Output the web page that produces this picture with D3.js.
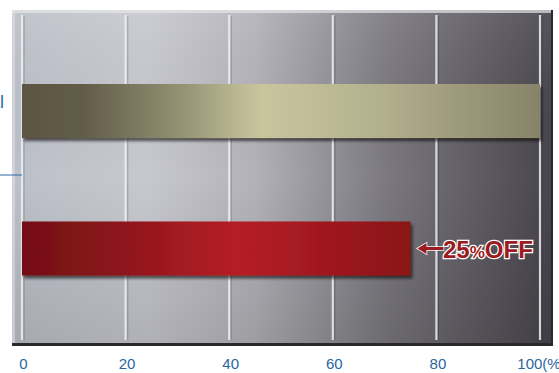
<!DOCTYPE html>
<html>
<head>
<meta charset="utf-8">
<script src="https://cdn.jsdelivr.net/npm/d3@7"></script>
<style>
  html, body { margin: 0; padding: 0; background: #fff; overflow: hidden; }
  svg { display: block; font-family: "Liberation Sans", Arial, sans-serif; }
</style>
</head>
<body>
<script>
// chart values
var categories = ["Normal", "Sale"];
var values = [100, 75];
var ticks = [0, 20, 40, 60, 80, 100];
var tickLabels = ["0", "20", "40", "60", "80", "100(%)"];
var note = "25%OFF";

var width = 559,
    height = 373;

var x = d3.scaleLinear().domain([0, 100]).range([22, 540]);
var y = d3.scaleBand().domain(categories).range([84, 275.5]).paddingInner(0.607);

var svg = d3.select("body").append("svg")
    .attr("width", width)
    .attr("height", height);

var defs = svg.append("defs");

function grad(id, stops, vertical) {
  var g = defs.append("linearGradient").attr("id", id)
      .attr("x1", 0).attr("y1", 0)
      .attr("x2", vertical ? 0 : 1).attr("y2", vertical ? 1 : 0);
  stops.forEach(function(s) {
    g.append("stop").attr("offset", s[0]).attr("stop-color", s[1]).attr("stop-opacity", s[2] == null ? 1 : s[2]);
  });
}

grad("plate", [[0, "#bcc0c8"], [0.25, "#c8c9cf"], [0.45, "#b2b2b8"], [0.7, "#7a787e"], [1, "#48454c"]]);
grad("plateV", [[0, "#ffffff", 0.08], [0.5, "#000000", 0], [1, "#000000", 0.12]], true);
grad("barA", [[0, "#5b5642"], [0.12, "#625d48"], [0.3, "#928f72"], [0.46, "#c9c69e"], [0.7, "#b2af8d"], [1, "#878369"]]);
grad("barB", [[0, "#740f13"], [0.2, "#86151a"], [0.55, "#b51e25"], [1, "#8a1318"]]);

var shadow = defs.append("filter").attr("id", "shadow")
    .attr("x", "-5%").attr("y", "-20%").attr("width", "110%").attr("height", "150%");
shadow.append("feDropShadow").attr("dx", 2).attr("dy", 3).attr("stdDeviation", 1.5)
    .attr("flood-color", "#000").attr("flood-opacity", 0.6);

// metal plate
svg.append("rect")
    .attr("x", 12).attr("y", 10).attr("width", 541).attr("height", 336)
    .attr("fill", "#2a282c");
svg.append("rect")
    .attr("x", 12).attr("y", 10).attr("width", 539).attr("height", 333)
    .attr("fill", "url(#plate)");
svg.append("rect")
    .attr("x", 12).attr("y", 10).attr("width", 539).attr("height", 333)
    .attr("fill", "url(#plateV)");
svg.append("rect")
    .attr("x", 12).attr("y", 10).attr("width", 539).attr("height", 3)
    .attr("fill", "#e6e7ea").attr("opacity", 0.7);
svg.append("rect")
    .attr("x", 12).attr("y", 10).attr("width", 3).attr("height", 333)
    .attr("fill", "#e6e7ea").attr("opacity", 0.5);

// grid lines
var grid = svg.append("g");
grid.selectAll("line.dark")
  .data(ticks)
  .join("line")
    .attr("class", "dark")
    .attr("x1", function(d) { return x(d) + 2; })
    .attr("x2", function(d) { return x(d) + 2; })
    .attr("y1", 16).attr("y2", 340)
    .attr("stroke", "#000").attr("stroke-opacity", 0.15).attr("stroke-width", 1.5);
grid.selectAll("line.light")
  .data(ticks)
  .join("line")
    .attr("class", "light")
    .attr("x1", function(d) { return x(d); })
    .attr("x2", function(d) { return x(d); })
    .attr("y1", 15).attr("y2", 340)
    .attr("stroke", "#eceef2").attr("stroke-opacity", 0.85).attr("stroke-width", 2.2);

// bars
svg.selectAll("rect.bar")
  .data(values)
  .join("rect")
    .attr("class", "bar")
    .attr("x", x(0))
    .attr("y", function(d, i) { return y(categories[i]); })
    .attr("width", function(d) { return x(d) - x(0); })
    .attr("height", y.bandwidth())
    .attr("fill", function(d, i) { return i === 0 ? "url(#barA)" : "url(#barB)"; })
    .attr("filter", "url(#shadow)");

// category label (runs off the left edge, as in the source) and leader line
svg.append("text")
    .attr("x", 4)
    .attr("y", 108)
    .attr("text-anchor", "end")
    .attr("fill", "#2f6aa6")
    .attr("font-size", 18)
    .text(categories[0]);
svg.append("line")
    .attr("x1", 0).attr("x2", x(0))
    .attr("y1", 175).attr("y2", 175)
    .attr("stroke", "#2f6aa6").attr("stroke-width", 1);

// x axis labels
svg.append("g").selectAll("text")
  .data(ticks)
  .join("text")
    .attr("x", function(d) { return x(d) + 1.5; })
    .attr("y", 369)
    .attr("text-anchor", "middle")
    .attr("fill", "#2a669e")
    .attr("font-size", 15)
    .text(function(d, i) { return tickLabels[i]; });

// 25%OFF note
var bx = x(values[1]),
    by = y(categories[1]) + y.bandwidth() / 2;
var noteG = svg.append("g");
noteG.append("path")
    .attr("d", "M" + (bx + 7) + "," + by + "l9,-5.5v4h17v3h-17v4z")
    .attr("fill", "#9c1a20").attr("stroke", "#fff").attr("stroke-width", 1.5)
    .attr("paint-order", "stroke");
var t = noteG.append("text")
    .attr("x", bx + 32.5)
    .attr("y", by + 10)
    .attr("fill", "#9c1a20")
    .attr("stroke", "#fff")
    .attr("stroke-width", 2.5)
    .attr("paint-order", "stroke")
    .attr("font-weight", "bold")
    .attr("font-size", 24);
t.append("tspan").text(note.slice(0, 2));
t.append("tspan").attr("font-size", 17).text(note.slice(2, 3));
t.append("tspan").text(note.slice(3));
</script>
</body>
</html>
